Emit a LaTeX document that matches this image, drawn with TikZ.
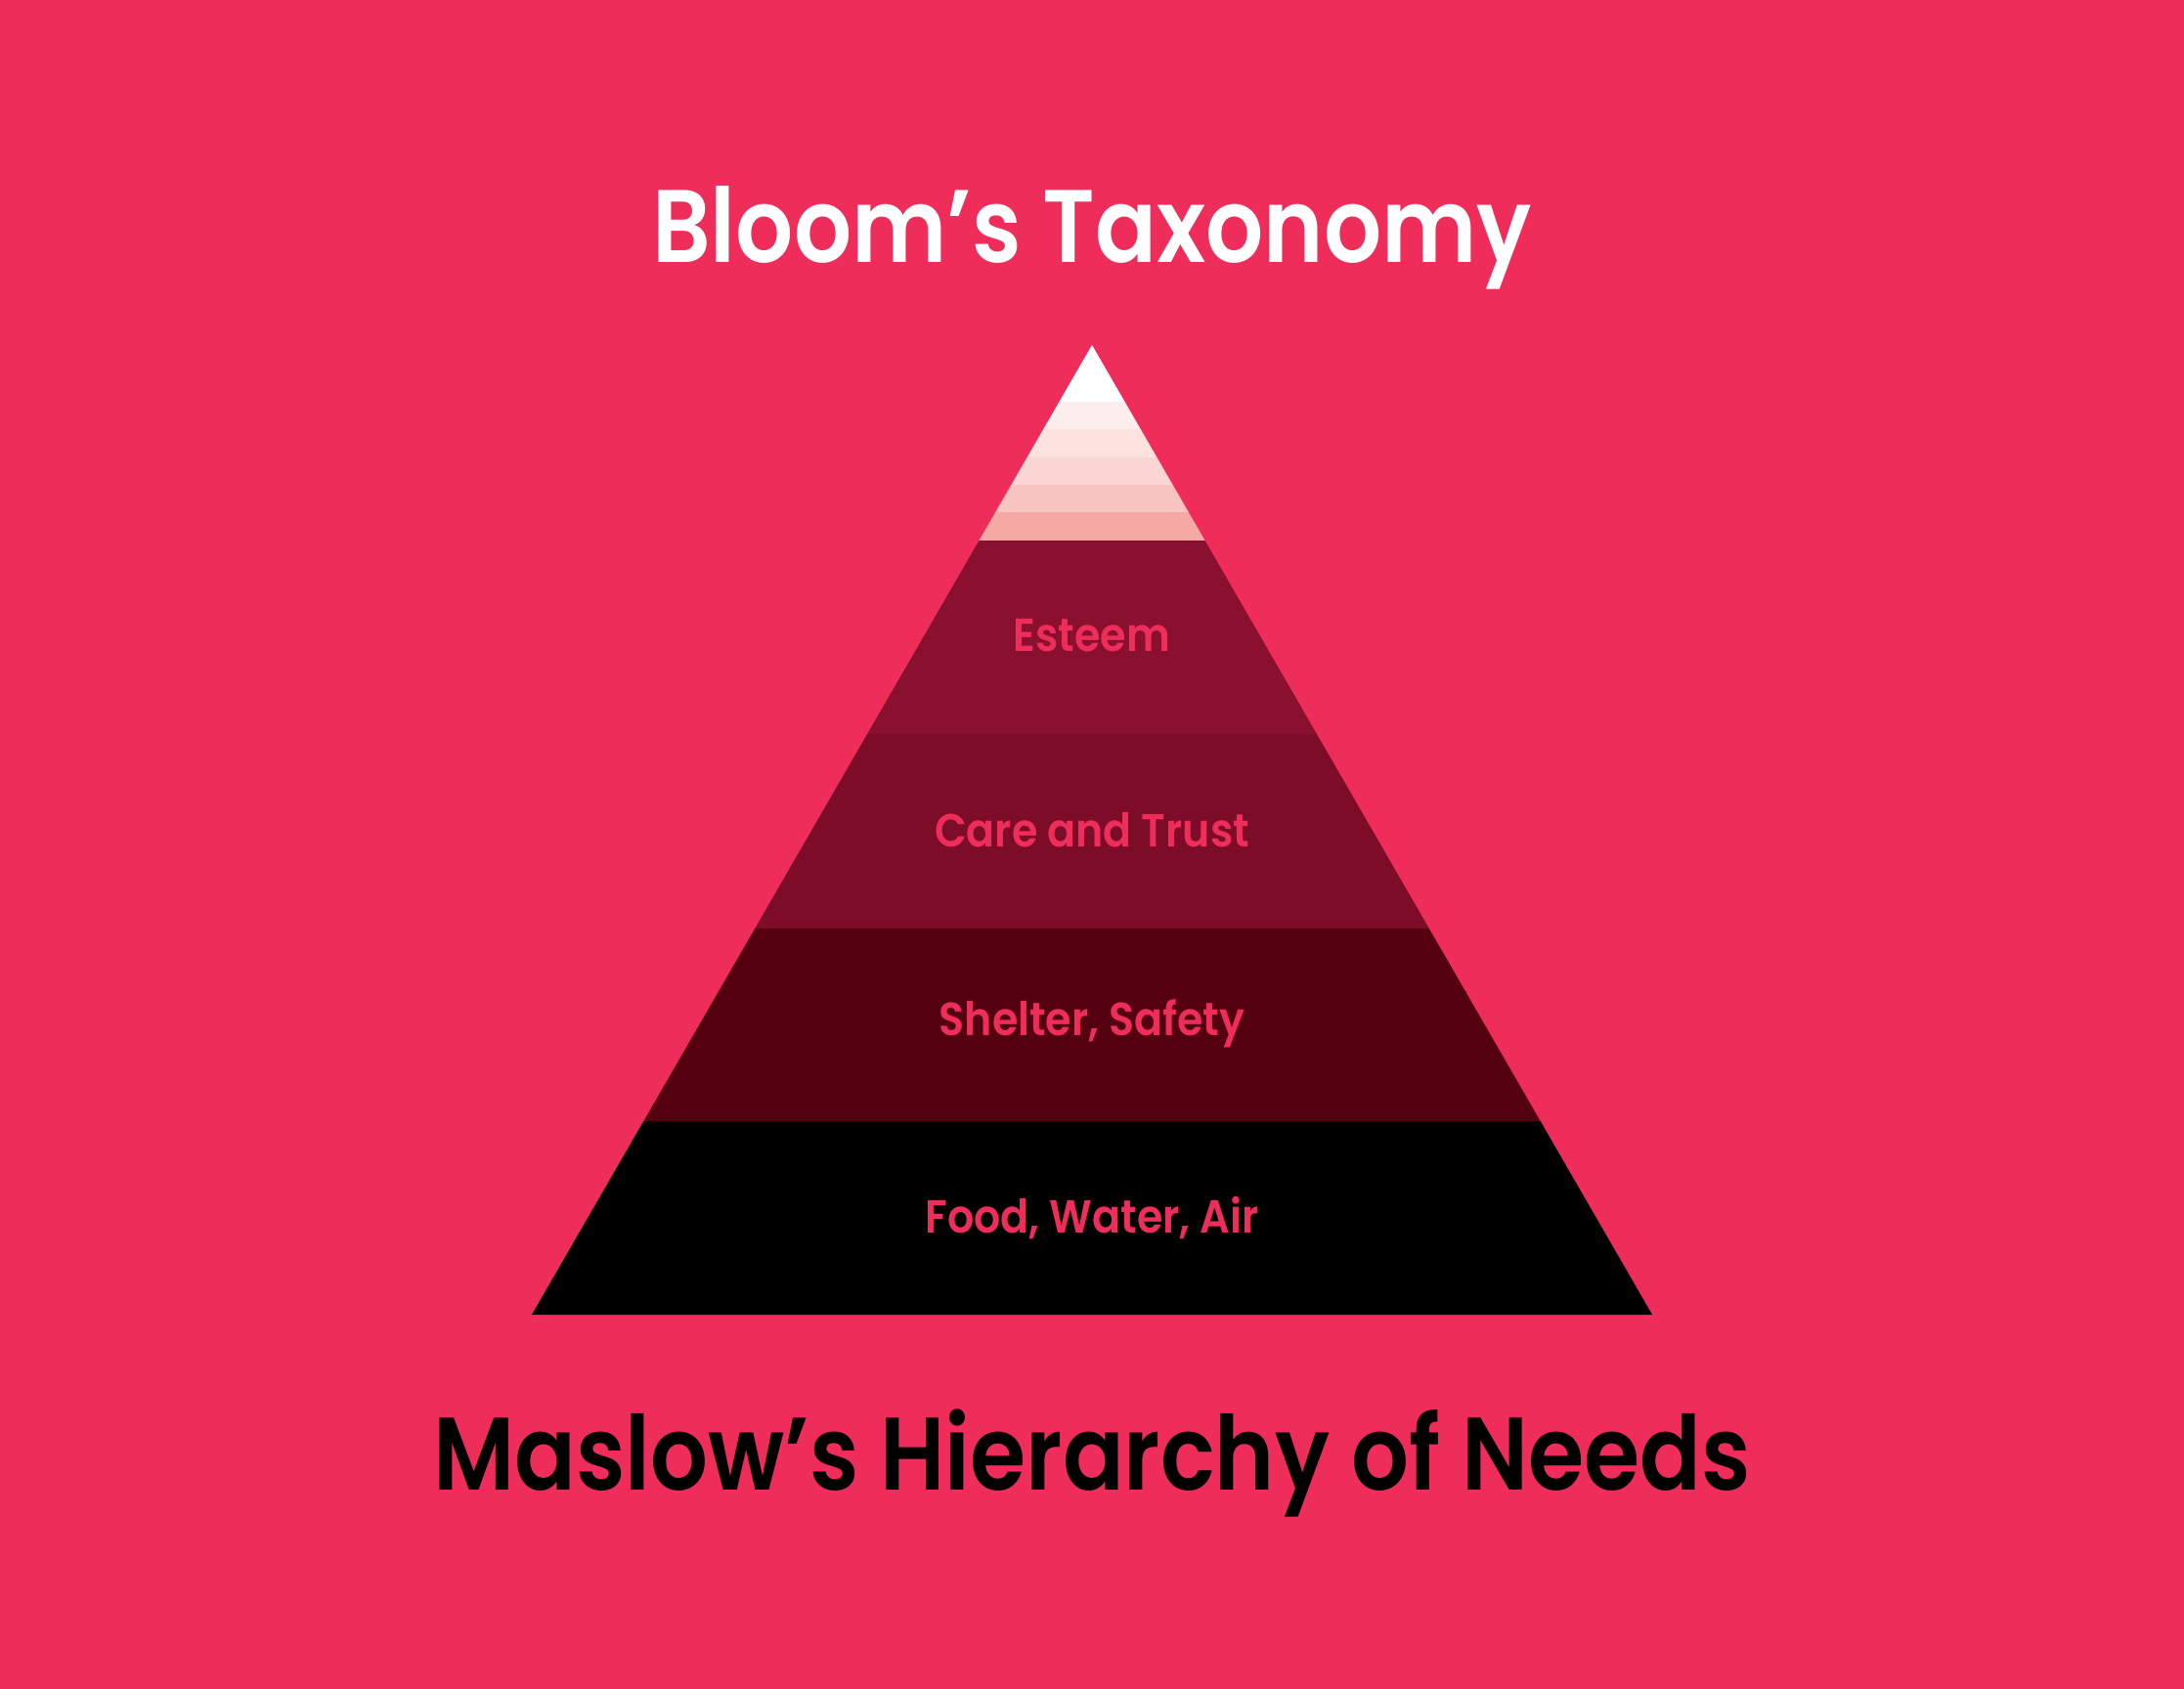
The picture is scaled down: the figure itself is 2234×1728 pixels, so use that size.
\documentclass[tikz,border=0pt]{standalone}
\usepackage{fontspec}
\setmainfont{Poppins}[BoldFont={Poppins SemiBold}]
\definecolor{bgpink}{HTML}{EE2D5A}
\definecolor{bandA}{HTML}{FCEEEC}
\definecolor{bandB}{HTML}{FDE2E0}
\definecolor{bandC}{HTML}{FBD5D2}
\definecolor{bandD}{HTML}{F8C4C1}
\definecolor{bandE}{HTML}{F6A9A4}
\definecolor{esteem}{HTML}{8A1030}
\definecolor{care}{HTML}{7C0C27}
\definecolor{shelter}{HTML}{540010}
\newcommand{\narrow}[2]{\scalebox{#1}[1]{#2}}
\tikzset{
  title/.style={font=\fontsize{30}{36}\selectfont\bfseries, inner sep=0pt},
  bandlabel/.style={font=\fontsize{13.5}{16}\selectfont\bfseries, text=bgpink, inner sep=0pt},
}
\begin{document}
\begin{tikzpicture}[x=0.01cm,y=-0.01cm]
\fill[bgpink] (0,0) rectangle (2234,1728);
\useasboundingbox (0,0) rectangle (2234,1728);
\coordinate (apex) at (1117,353);
\coordinate (bl) at (544,1345);
\coordinate (br) at (1690,1345);
\begin{scope}
  \clip (apex) -- (br) -- (bl) -- cycle;
  \fill[white]   (500,340)   rectangle (1750,411);
  \fill[bandA]   (500,411)   rectangle (1750,439.3);
  \fill[bandB]   (500,439.3) rectangle (1750,467.7);
  \fill[bandC]   (500,467.7) rectangle (1750,496);
  \fill[bandD]   (500,496)   rectangle (1750,524.3);
  \fill[bandE]   (500,524.3) rectangle (1750,552.7);
  \fill[esteem]  (500,552.7) rectangle (1750,751);
  \fill[care]    (500,751)   rectangle (1750,949.5);
  \fill[shelter] (500,949.5) rectangle (1750,1147);
  \fill[black]   (500,1147)  rectangle (1750,1350);
\end{scope}
\node[title, text=white] (bloom) at (1117,243) {\narrow{0.88}{Bloom’s Taxonomy}};
\node[title, text=black] (maslow) at (1117,1497) {\narrow{0.877}{Maslow’s Hierarchy of Needs}};
\node[bandlabel] (l1) at (1117,650) {\narrow{0.9}{Esteem}};
\node[bandlabel] (l2) at (1117,849) {\narrow{0.9}{Care and Trust}};
\node[bandlabel] (l3) at (1117,1047) {\narrow{0.9}{Shelter, Safety}};
\node[bandlabel] (l4) at (1117,1246) {\narrow{0.9}{Food, Water, Air}};
\end{tikzpicture}
\end{document}
